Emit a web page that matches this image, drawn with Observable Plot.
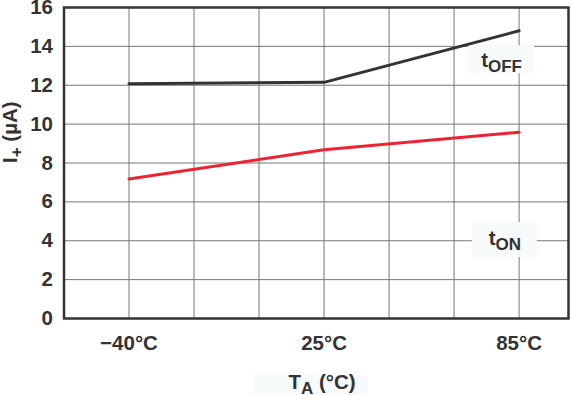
<!DOCTYPE html>
<html><head><meta charset="utf-8">
<script src="https://cdn.jsdelivr.net/npm/d3@7"></script>
<script src="https://cdn.jsdelivr.net/npm/@observablehq/plot@0.6"></script>
<style>body{margin:0;background:#fff} svg{display:block}</style>
</head><body><div id="chart"></div>
<script>
const temps = ["\u221240\u00B0C", "25\u00B0C", "85\u00B0C"];
const tOffValues = [12.08, 12.15, 14.8];
const tOnValues = [7.18, 8.68, 9.58];
const yTicks = [0, 2, 4, 6, 8, 10, 12, 14, 16];
const seriesLabels = ["tOFF", "tON"];
const xTitle = "TA (\u00B0C)";
const yTitle = "I+ (\u00B5A)";

// category slots: each category sits on every third grid slot
const pos = i => 1 + 3 * i;
const gridSlots = d3.range(0, 8);
const off = temps.map((t, i) => ({x: pos(i), y: tOffValues[i]}));
const on = temps.map((t, i) => ({x: pos(i), y: tOnValues[i]}));

const font = "'Liberation Sans', Arial, sans-serif";
const fs = 20.5;
const plot = Plot.plot({
  width: 571, height: 395,
  marginLeft: 63.5, marginRight: 3, marginTop: 7, marginBottom: 77,
  style: {fontFamily: font, fontSize: fs + "px", fontWeight: "bold", color: "#333", background: "#fff"},
  x: {type: "linear", domain: [0, 7.76], label: null},
  y: {domain: [0, 16], label: null},
  marks: [
    Plot.gridX(gridSlots, {stroke: "#777", strokeOpacity: 1, strokeWidth: 1}),
    Plot.gridY(yTicks, {stroke: "#777", strokeOpacity: 1, strokeWidth: 1}),
    Plot.rect([0], {x1: 6.22, x2: 7.24, y1: 12.6, y2: 14.03, fill: "#f8fbfb"}),
    Plot.rect([0], {x1: 6.28, x2: 7.28, y1: 3.14, y2: 4.94, fill: "#f8fbfb"}),
    Plot.rect([0], {x1: 2.92, x2: 4.68, y1: -2.93, y2: -4.0, fill: "#f8fbfb"}),
    Plot.line(off, {x: "x", y: "y", stroke: "#333", strokeWidth: 3}),
    Plot.line(on, {x: "x", y: "y", stroke: "#ee2233", strokeWidth: 3}),
    Plot.frame({stroke: "#333", strokeWidth: 2.5}),
    Plot.axisX(temps.map((t, i) => pos(i)), {tickSize: 0, tickPadding: 17, tickFormat: v => temps[(v - 1) / 3], fontSize: fs, fill: "#333", label: null}),
    Plot.axisY(yTicks, {tickSize: 0, tickPadding: 11, fontSize: fs, fill: "#333", label: null}),
    Plot.text([seriesLabels[0]], {x: 6.73, y: 13.3, className: "lbl-off", fill: "#333", fontSize: fs}),
    Plot.text([seriesLabels[1]], {x: 6.78, y: 4.1, className: "lbl-on", fill: "#333", fontSize: fs}),
    Plot.text([xTitle], {x: 3.97, y: -3.3, className: "lbl-x", fill: "#333", fontSize: fs}),
    Plot.text([yTitle], {frameAnchor: "left", dx: -54, rotate: -90, className: "lbl-y", fill: "#333", fontSize: fs})
  ]
});
document.getElementById("chart").appendChild(plot);

function sub(cls, main, subText, rest) {
  d3.select(plot).selectAll("." + cls + " text").each(function() {
    const t = d3.select(this);
    t.text(null);
    t.append("tspan").text(main);
    t.append("tspan").attr("font-size", 17).attr("dy", 5).text(subText);
    if (rest) t.append("tspan").attr("dy", -5).text(rest);
  });
}
sub("lbl-off", "t", "OFF");
sub("lbl-on", "t", "ON");
sub("lbl-x", "T", "A", " (\u00B0C)");
sub("lbl-y", "I", "+", " (\u00B5A)");
</script></body></html>
